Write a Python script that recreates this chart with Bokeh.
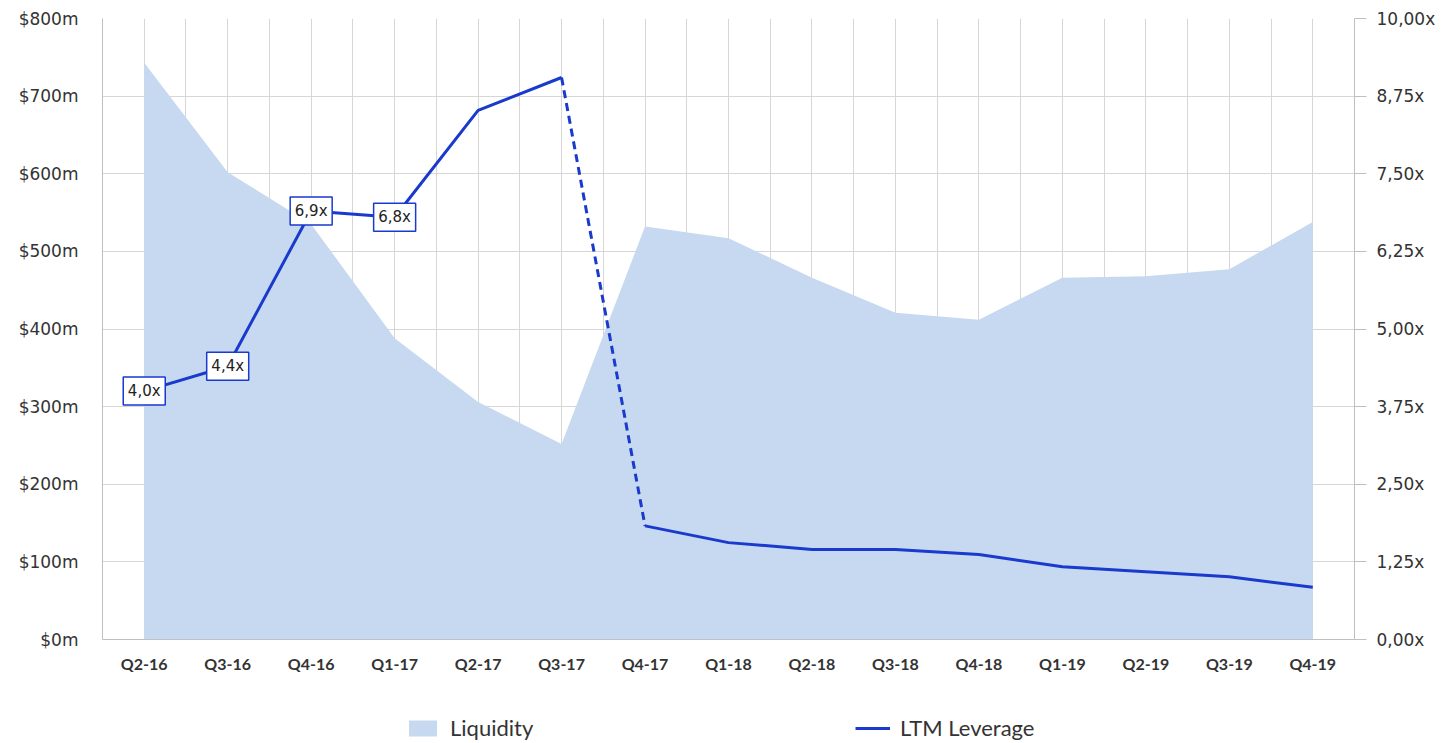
import numpy as np
from bokeh.plotting import figure
from bokeh.layouts import column
from bokeh.models import (Range1d, LinearAxis, FixedTicker, CustomJSTickFormatter,
                          Legend, LegendItem, ColumnDataSource)
from bokeh.core.properties import value
from bokeh.embed import file_html
from bokeh.resources import INLINE

quarters = ["Q2-16", "Q3-16", "Q4-16", "Q1-17", "Q2-17", "Q3-17", "Q4-17", "Q1-18",
            "Q2-18", "Q3-18", "Q4-18", "Q1-19", "Q2-19", "Q3-19", "Q4-19"]
liquidity = [743, 602, 535, 388, 306, 252, 532, 517, 466, 421, 412, 466, 468, 477, 538]
leverage = [4.0, 4.4, 6.9, 6.8, 8.52, 9.05, 1.83, 1.56, 1.45, 1.45, 1.37, 1.17, 1.09, 1.01, 0.84]
label_idx = [0, 1, 2, 3]
label_text = ["4,0x", "4,4x", "6,9x", "6,8x"]
left_ticks = [0, 100, 200, 300, 400, 500, 600, 700, 800]
right_ticks = [0, 1.25, 2.5, 3.75, 5.0, 6.25, 7.5, 8.75, 10.0]
series_names = ["Liquidity", "LTM Leverage"]

x = list(range(len(quarters)))

AREA = "#c6d9f0"
LINE = "#1a3acd"
GRID = "#d6d6d6"
AXIS = "#bfbfbf"

p = figure(width=1438, height=675, x_range=Range1d(-0.5, 14.5), y_range=Range1d(0, 800),
           output_backend="svg", toolbar_location=None,
           min_border_left=102, min_border_right=84, min_border_top=18, min_border_bottom=35)
p.outline_line_color = None
p.extra_y_ranges = {"lev": Range1d(0, 10)}

# grids
p.xgrid.ticker = FixedTicker(ticks=list(np.arange(-0.5, 14.51, 0.5)))
p.ygrid.ticker = FixedTicker(ticks=left_ticks)
p.xgrid.grid_line_color = GRID
p.ygrid.grid_line_color = GRID

# area
area = p.varea(x=x, y1=[0] * len(x), y2=liquidity, fill_color=AREA)

# leverage lines
l1 = p.line(x[:6], leverage[:6], line_color=LINE, line_width=3, y_range_name="lev")
p.line(x[5:7], leverage[5:7], line_color=LINE, line_width=3, line_dash="8 5", y_range_name="lev")
p.line(x[6:], leverage[6:], line_color=LINE, line_width=3, y_range_name="lev")

# data labels
lsrc = ColumnDataSource(dict(x=[x[i] for i in label_idx], y=[leverage[i] for i in label_idx],
                             t=label_text))
p.rect(x="x", y="y", width=42, height=28, width_units="screen", height_units="screen",
       fill_color="white", line_color=LINE, line_width=1.5, source=lsrc, y_range_name="lev")
p.text(x="x", y="y", text="t", source=lsrc, y_range_name="lev", text_align="center",
       text_baseline="middle", text_font=value("DejaVu Sans"), text_font_size="15px",
       text_color="#222222")

# x axis
xa = p.xaxis[0]
xa.ticker = FixedTicker(ticks=x)
xa.major_label_overrides = {i: q for i, q in enumerate(quarters)}
xa.major_label_text_font = "Lato"
xa.major_label_text_font_style = "bold"
xa.major_label_text_font_size = "16px"
xa.major_label_text_color = "#333333"
xa.axis_line_color = AXIS
xa.major_tick_out = 0
xa.major_tick_in = 0
xa.minor_tick_out = 0
xa.minor_tick_in = 0
xa.major_label_standoff = 14

# left axis
ya = p.yaxis[0]
ya.ticker = FixedTicker(ticks=left_ticks)
ya.formatter = CustomJSTickFormatter(code="return '$' + tick.toFixed(0) + 'm';")
ya.major_label_text_font = "DejaVu Sans"
ya.major_label_text_font_size = "17px"
ya.major_label_text_color = "#333333"
ya.axis_line_color = AXIS
ya.major_tick_out = 0
ya.major_tick_in = 0
ya.minor_tick_out = 0
ya.minor_tick_in = 0
ya.major_label_standoff = 24

# right axis
ra = LinearAxis(y_range_name="lev", ticker=FixedTicker(ticks=right_ticks),
                formatter=CustomJSTickFormatter(code="return tick.toFixed(2).replace('.', ',') + 'x';"))
ra.major_label_text_font = "DejaVu Sans"
ra.major_label_text_font_size = "17px"
ra.major_label_text_color = "#333333"
ra.axis_line_color = AXIS
ra.major_tick_line_color = AXIS
ra.major_tick_out = 12
ra.major_tick_in = 0
ra.minor_tick_out = 0
ra.minor_tick_in = 0
ra.major_label_standoff = 10
p.add_layout(ra, "right")

# legend strip (separate figure below the chart, same horizontal borders);
# proxy renderers sit outside its visible range so only their legend swatches show
lf = figure(width=1438, height=68, x_range=Range1d(0, 1), y_range=Range1d(0, 1),
            output_backend="svg", toolbar_location=None,
            min_border_left=102, min_border_right=84, min_border_top=0, min_border_bottom=0)
lf.outline_line_color = None
lf.axis.visible = False
lf.grid.visible = False
d_area = lf.varea(x=[5, 6], y1=[5, 5], y2=[6, 6], fill_color=AREA)
d_line = lf.line(x=[5, 6], y=[5, 5], line_color=LINE, line_width=3)

legend = Legend(items=[LegendItem(label=series_names[0], renderers=[d_area]),
                       LegendItem(label=series_names[1], renderers=[d_line])],
                orientation="horizontal", location=(303, 2), spacing=10,
                glyph_width=35, glyph_height=20, label_height=22, label_standoff=10,
                label_width=395,
                label_text_font="Lato", label_text_font_size="22px", label_text_color="#333333",
                border_line_color=None, background_fill_alpha=0, padding=2, margin=0)
lf.add_layout(legend)

layout = column(p, lf, spacing=0)
open("out.html", "w").write(file_html(layout, INLINE))
